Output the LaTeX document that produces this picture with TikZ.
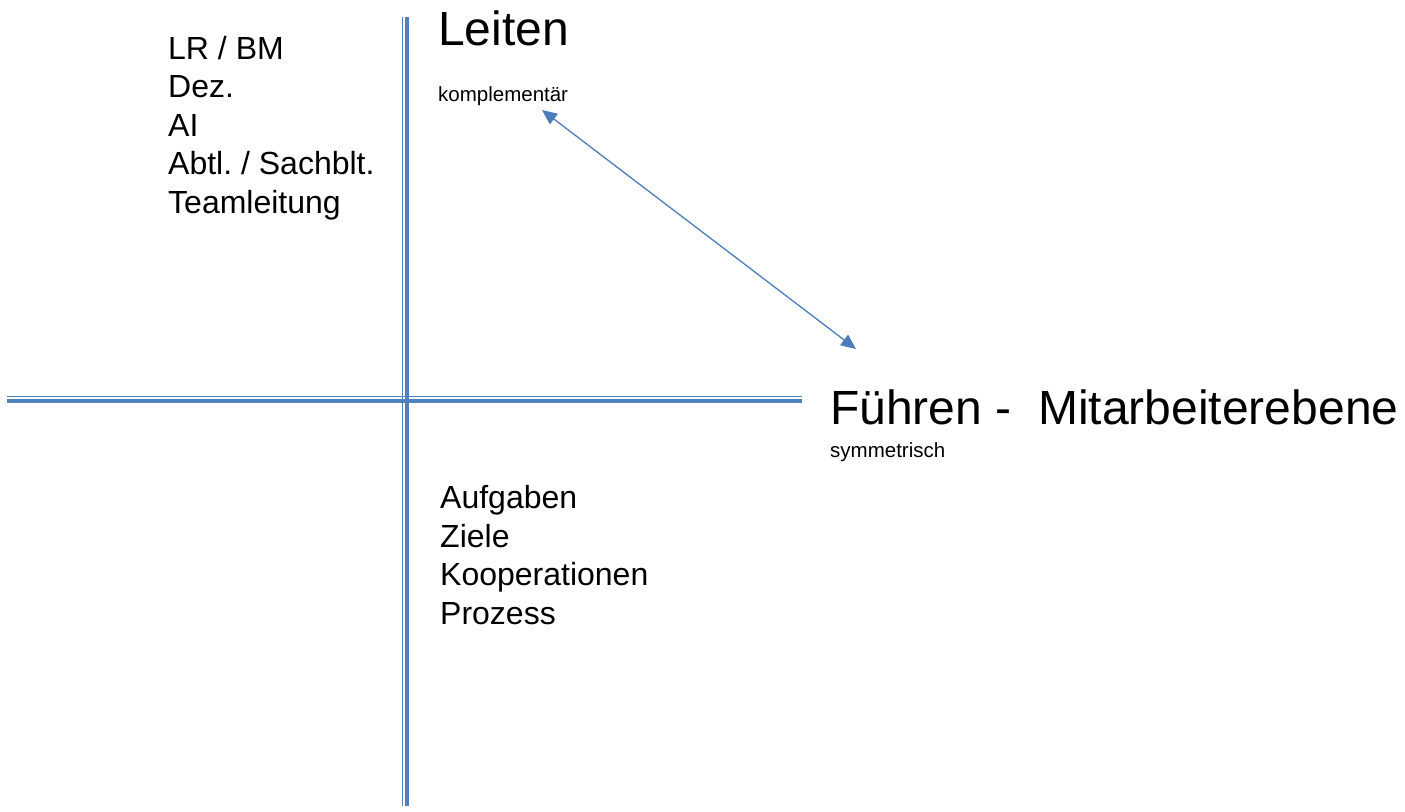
\documentclass[tikz,border=0pt]{standalone}
\usepackage{fontspec}
\setmainfont{Liberation Sans}
\usepackage{tikz}
\usetikzlibrary{arrows.meta}
\frenchspacing
\definecolor{axisblue}{RGB}{79,129,189}
\definecolor{arrowblue}{RGB}{74,126,187}
\tikzset{every node/.style={inner sep=0pt, anchor=base west, align=left}}
\tikzset{thinaxis/.style={draw=axisblue, line width=1.3pt}}
\tikzset{thickaxis/.style={draw=axisblue, line width=4pt}}
\tikzset{bigtext/.style={font=\fontsize{48}{55}\selectfont}}
\tikzset{smalltext/.style={font=\fontsize{20.5}{24}\selectfont}}
\tikzset{listtext/.style={font=\fontsize{32}{38.5}\selectfont}}

\begin{document}
\begin{tikzpicture}[x=1pt, y=-1pt]
    \useasboundingbox (0, 0) rectangle (1405, 811);

    % Achsen (doppelt)
    \coordinate (W) at (7, 0);
    \coordinate (E) at (802, 0);
    \coordinate (N) at (0, 17);
    \coordinate (S) at (0, 806);
    \draw[thinaxis] (W |- 0, 396.5) -- (E |- 0, 396.5);
    \draw[thickaxis] (W |- 0, 401) -- (E |- 0, 401);
    \draw[thinaxis] (402.5, 0 |- N) -- (402.5, 0 |- S);
    \draw[thickaxis] (406.5, 0 |- N) -- (406.5, 0 |- S);

    % Beschriftungen
    \node[bigtext] at (438, 45) (leiten) {Leiten};
    \node[smalltext] at (438, 101) (kompl) {komplementär};
    \node[bigtext] at (830, 424) (fuehren) {Führen -\ \ Mitarbeiterebene};
    \node[smalltext] at (830, 457) (symm) {symmetrisch};

    % Listen (Anker = letzte Zeile)
    \node[listtext] at (168, 213) (ebenen)
        {LR / BM\\Dez.\\AI\\Abtl. / Sachblt.\\Teamleitung};
    \node[listtext] at (440, 624) (inhalte)
        {Aufgaben\\Ziele\\Kooperationen\\Prozess};

    % Pfeil
    \coordinate (top) at (542, 110);
    \coordinate (bottom) at (856, 349);
    \draw[arrowblue, line width=1.3pt, {Triangle[length=15pt, width=13pt]}-{Triangle[length=15pt, width=13pt]}] (top) -- (bottom);
\end{tikzpicture}
\end{document}
